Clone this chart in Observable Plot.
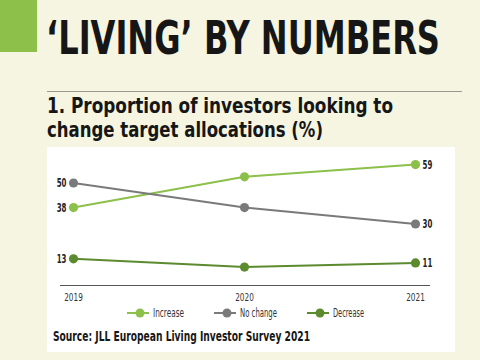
<!DOCTYPE html>
<html><head><meta charset="utf-8">
<script src="https://cdn.jsdelivr.net/npm/d3@7"></script>
<script src="https://cdn.jsdelivr.net/npm/@observablehq/plot@0.6"></script>
<style>
html,body{margin:0;padding:0;}
body{width:480px;height:360px;background:#f5f5e2;position:relative;overflow:hidden;font-family:"DejaVu Sans Condensed",sans-serif;}
#block{position:absolute;left:0;top:0;width:37px;height:52px;background:#8dc04b;}
#title{position:absolute;left:46px;top:12px;font-size:46px;font-weight:bold;color:#161616;white-space:nowrap;transform-origin:0 0;line-height:52px;}
#rule{position:absolute;left:47px;top:91px;width:415px;height:1px;background:#9a9a90;}
.sub{position:absolute;left:47px;font-size:21px;font-weight:bold;color:#161616;line-height:24px;white-space:nowrap;transform-origin:0 0;}
#panel{position:absolute;left:47px;top:147px;width:408px;height:205px;background:#ffffff;}
#chart{position:absolute;left:0;top:0;}
#legend{position:absolute;left:0;top:157px;width:408px;height:18px;font-size:12px;color:#333;}
.lsw{position:absolute;top:0;}
.ltx{position:absolute;top:0;line-height:18px;white-space:nowrap;transform-origin:0 0;}
#source{position:absolute;left:6px;top:181px;font-size:14px;font-weight:bold;color:#161616;white-space:nowrap;transform-origin:0 0;}
</style></head>
<body>
<div id="block"></div>
<div id="title">‘LIVING’ BY NUMBERS</div>
<div id="rule"></div>
<div class="sub" id="sub1" style="top:94px">1. Proportion of investors looking to</div>
<div class="sub" id="sub2" style="top:118px">change target allocations (%)</div>
<div id="panel"><div id="chart"></div><div id="legend"></div><div id="source">Source: JLL European Living Investor Survey 2021</div></div>
<script>
const years = [2019, 2020, 2021];
const seriesNames = ["Increase", "No change", "Decrease"];
const increase = [38, 53, 59];
const noChange = [50, 38, 30];
const decrease = [13, 9, 11];
const colors = ["#8cc04a", "#7a7a7c", "#5b8a2f"];

const valuesBySeries = [increase, noChange, decrease];
const data = [];
seriesNames.forEach((s, i) => years.forEach((y, j) => data.push({series: s, year: y, value: valuesBySeries[i][j], idx: j})));
const firsts = data.filter(d => d.idx === 0);
const lasts = data.filter(d => d.idx === 2);

const chart = Plot.plot({
  width: 408, height: 165,
  marginLeft: 13, marginRight: 25, marginTop: 15, marginBottom: 27,
  style: {background: "transparent", fontFamily: "DejaVu Sans Condensed, sans-serif"},
  x: {type: "point", domain: years, padding: 0, insetLeft: 13, insetRight: 15, label: null},
  y: {domain: [0, 60], axis: null},
  color: {domain: seriesNames, range: colors},
  marks: [
    Plot.ruleY([0], {stroke: "#555", strokeWidth: 1}),
    Plot.axisX({tickSize: 0, tickPadding: 8, fontSize: 11, fill: "#333", tickFormat: d => String(d), anchor: "bottom"}),
    Plot.line(data, {x: "year", y: "value", z: "series", stroke: "series", strokeWidth: 2}),
    Plot.dot(data, {x: "year", y: "value", fill: "series", r: 4.6}),
    Plot.text(firsts, {x: "year", y: "value", text: d => String(d.value), textAnchor: "end", dx: -7, fontSize: 13, fontWeight: "bold", fill: "#222"}),
    Plot.text(lasts, {x: "year", y: "value", text: d => String(d.value), textAnchor: "start", dx: 7, fontSize: 13, fontWeight: "bold", fill: "#222"})
  ]
});
document.getElementById("chart").appendChild(chart);

// condense the chart texts horizontally around their anchor (narrow typeface look)
chart.querySelectorAll("text").forEach(t => {
  const isYear = /^\d{4}$/.test(t.textContent.trim());
  const sx = isYear ? 0.74 : 0.6;
  const bb = t.getBBox();
  const anchor = getComputedStyle(t).textAnchor;
  const ax = anchor === "end" ? bb.x + bb.width : anchor === "middle" ? bb.x + bb.width / 2 : bb.x;
  const tr = t.getAttribute("transform") || "";
  t.setAttribute("transform", `${tr} translate(${ax},0) scale(${sx},1) translate(${-ax},0)`);
});

// legend
const legend = document.getElementById("legend");
const swX = [80, 167, 260];
const txX = [106, 193, 286];
const txW = [31, 37, 31];
seriesNames.forEach((s, i) => {
  const sw = document.createElement("div");
  sw.className = "lsw";
  sw.style.left = swX[i] + "px";
  sw.innerHTML = `<svg width="24" height="18"><line x1="0" x2="22" y1="9" y2="9" stroke="${colors[i]}" stroke-width="2"/><circle cx="13" cy="9" r="4.5" fill="${colors[i]}"/></svg>`;
  legend.appendChild(sw);
  const tx = document.createElement("div");
  tx.className = "ltx";
  tx.style.left = txX[i] + "px";
  tx.textContent = s;
  legend.appendChild(tx);
  tx.style.transform = `scaleX(${txW[i] / tx.getBoundingClientRect().width})`;
});

// fit text widths to the reference
function fit(id, w) {
  const el = document.getElementById(id);
  const cur = el.getBoundingClientRect().width;
  el.style.transform = `scaleX(${w / cur})`;
}
fit("title", 394);
fit("sub1", 346);
fit("sub2", 276);
fit("source", 257);
</script>
</body></html>
